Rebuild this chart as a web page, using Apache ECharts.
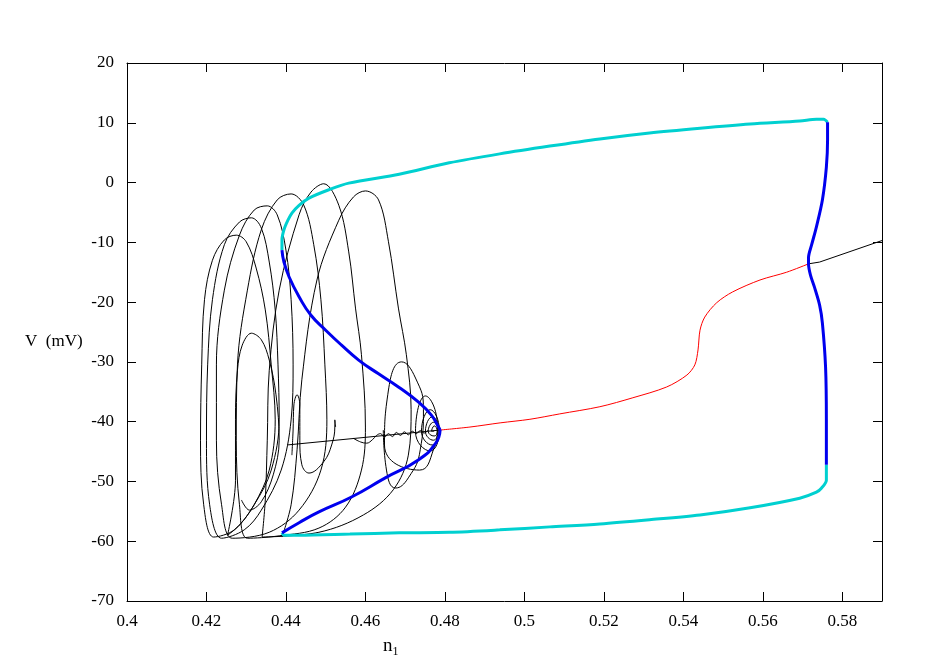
<!DOCTYPE html>
<html>
<head>
<meta charset="utf-8">
<script src="https://cdn.jsdelivr.net/npm/echarts@6/dist/echarts.min.js"></script>
<style>
  html, body { margin: 0; background: #fff; }
  #chart { width: 941px; height: 664px; }
</style>
</head>
<body>
<div id="chart"></div>
<script>
// axis ranges / ticks
const xRange = [0.4, 0.59, 0.02];
const yRange = [-70, 20, 10];

// steady states: stable (black) and unstable (red)
const stableLeft = [[0.4403, -43.9], [0.4788, -41.4]];
const stableRight = [[0.5715, -13.6], [0.5743, -13.3], [0.59, -9.7]];
const unstableSS = [
  [0.4788, -41.4], [0.4863, -40.9], [0.4939, -40.2], [0.5014, -39.6], [0.5089, -38.7],
  [0.5190, -37.5], [0.5273, -36.0], [0.5358, -34.2], [0.5409, -32.2], [0.5429, -30.5],
  [0.5437, -28.0], [0.5442, -24.7], [0.5454, -22.5], [0.5484, -20.1], [0.5524, -18.3],
  [0.5593, -16.3], [0.5660, -15.0], [0.5715, -13.6]
];

// periodic orbits: max/min, unstable (blue) and stable (cyan)
const unstMaxLeft = [
  [0.4390, -11.3], [0.4395, -13.3], [0.4408, -15.8], [0.4433, -19.1], [0.4463, -22.2],
  [0.4500, -24.7], [0.4540, -27.2], [0.4583, -29.7], [0.4633, -32.0], [0.4683, -34.2],
  [0.4733, -36.7], [0.4766, -38.9], [0.4784, -40.9], [0.4788, -41.4]
];
const unstMinLeft = [
  [0.4788, -41.4], [0.4777, -43.6], [0.4733, -46.4], [0.4650, -49.4], [0.4565, -52.6],
  [0.4483, -55.1], [0.4433, -56.9], [0.4390, -58.6]
];
const stabMax = [
  [0.4390, -11.3], [0.4390, -9.6], [0.4395, -7.9], [0.4405, -6.3], [0.4415, -5.1],
  [0.4433, -3.8], [0.4458, -2.6], [0.4508, -1.2], [0.4558, -0.1], [0.4685, 1.4],
  [0.4811, 3.3], [0.4938, 4.8], [0.5064, 6.1], [0.5190, 7.3], [0.5315, 8.3],
  [0.5442, 9.1], [0.5568, 9.8], [0.5693, 10.3], [0.5735, 10.6], [0.5753, 10.6], [0.5763, 10.1]
];
const unstRight = [
  [0.5763, 10.1], [0.5763, 7.1], [0.5760, 2.6], [0.5750, -2.9], [0.5735, -7.4],
  [0.5723, -10.4], [0.5715, -12.6], [0.5715, -13.6], [0.5720, -15.5], [0.5730, -17.5],
  [0.5743, -20.5], [0.5750, -23.5], [0.5758, -30.9], [0.5760, -39.7], [0.5760, -47.2]
];
const stabMin = [
  [0.5760, -47.2], [0.5760, -49.8], [0.5748, -51.1], [0.5735, -51.8], [0.5693, -52.8],
  [0.5568, -54.4], [0.5442, -55.6], [0.5315, -56.4], [0.5190, -57.1], [0.5064, -57.6],
  [0.4938, -58.1], [0.4811, -58.5], [0.4685, -58.6], [0.4561, -58.8], [0.4433, -59.0],
  [0.4395, -59.0], [0.4390, -58.6]
];

// trajectory (black): spiral out of the Hopf point
const trajSpiral = [
  [0.4773, -41.6],
  [0.4766, -41.6], [0.4773, -40.7], [0.4781, -41.6], [0.4773, -42.4],
  [0.4758, -41.6], [0.4771, -40.1], [0.4783, -41.6], [0.4771, -43.1],
  [0.4751, -41.6], [0.4768, -39.2], [0.4786, -41.6], [0.4768, -43.9],
  [0.4741, -41.6], [0.4763, -38.0], [0.4786, -41.4], [0.4763, -44.9],
  [0.4726, -41.7], [0.4751, -35.7], [0.4781, -40.6], [0.4771, -44.7], [0.4736, -48.1],
  [0.4648, -43.9], [0.4658, -34.7], [0.4691, -30.0], [0.4726, -32.7], [0.4746, -38.0],
  [0.4738, -44.7], [0.4708, -49.4], [0.4676, -51.1], [0.4653, -48.1], [0.4645, -41.4]
];
// big relaxation loops, right to left
const trajLoops = [
  [0.4390, -59.3], [0.4413, -53.9], [0.4428, -44.7], [0.4440, -33.0], [0.4478, -16.3],
  [0.4533, -6.3], [0.4570, -2.4], [0.4600, -1.4], [0.4633, -2.9], [0.4658, -9.9],
  [0.4683, -21.0], [0.4703, -28.8], [0.4715, -38.0], [0.4708, -45.6], [0.4670, -51.4],
  [0.4595, -55.6], [0.4483, -58.5], [0.4340, -59.3],
  [0.4348, -53.1], [0.4353, -43.1], [0.4358, -31.4], [0.4383, -18.0], [0.4433, -5.4],
  [0.4463, -1.6], [0.4495, -0.2], [0.4533, -3.8], [0.4558, -11.6], [0.4575, -21.0],
  [0.4590, -28.8], [0.4600, -40.9], [0.4590, -48.1], [0.4550, -54.3], [0.4483, -57.8],
  [0.4383, -59.1], [0.4303, -59.5],
  [0.4283, -53.9], [0.4275, -43.1], [0.4278, -30.5], [0.4303, -18.0], [0.4338, -7.9],
  [0.4378, -2.9], [0.4413, -1.9], [0.4445, -3.8], [0.4470, -10.4], [0.4488, -19.6],
  [0.4498, -30.5], [0.4503, -39.7], [0.4488, -48.1], [0.4433, -54.8], [0.4358, -58.5],
  [0.4265, -59.5],
  [0.4238, -53.9], [0.4225, -43.1], [0.4225, -30.5], [0.4245, -18.0], [0.4283, -8.8],
  [0.4320, -4.6], [0.4353, -3.9], [0.4378, -5.4], [0.4400, -11.3], [0.4413, -19.6],
  [0.4418, -30.5], [0.4413, -39.7], [0.4388, -48.1], [0.4338, -54.8], [0.4295, -58.1],
  [0.4238, -59.5],
  [0.4208, -53.9], [0.4200, -43.1], [0.4203, -30.5], [0.4215, -19.6], [0.4245, -10.4],
  [0.4283, -6.6], [0.4313, -5.9], [0.4338, -7.6], [0.4358, -13.3], [0.4373, -21.3],
  [0.4380, -30.5], [0.4383, -39.7], [0.4363, -48.1], [0.4320, -53.9], [0.4270, -58.1],
  [0.4218, -59.3],
  [0.4193, -53.9], [0.4185, -43.1], [0.4188, -30.5], [0.4195, -19.6], [0.4215, -13.0],
  [0.4245, -9.6], [0.4275, -8.8], [0.4300, -9.9], [0.4325, -14.3], [0.4348, -21.3],
  [0.4363, -30.5], [0.4373, -39.7], [0.4358, -48.1], [0.4320, -53.9], [0.4283, -57.3],
  [0.4253, -59.0],
  [0.4273, -49.8], [0.4273, -39.7], [0.4278, -31.4], [0.4290, -27.2], [0.4313, -25.2],
  [0.4338, -26.3], [0.4358, -29.7], [0.4375, -35.5], [0.4383, -43.1], [0.4368, -48.9],
  [0.4338, -53.4], [0.4308, -54.8], [0.4288, -53.1]
];
const trajSmall = [
  [0.4415, -45.6], [0.4418, -41.4], [0.4420, -37.2], [0.4428, -35.5], [0.4435, -37.2],
  [0.4435, -43.1], [0.4440, -47.2], [0.4458, -48.6], [0.4495, -46.7], [0.4515, -43.9],
  [0.4523, -40.9], [0.4523, -39.7], [0.4525, -40.9]
];
const trajWiggle = [
  [0.4570, -42.8], [0.4588, -43.4], [0.4603, -43.6], [0.4618, -43.0], [0.4628, -42.3],
  [0.4638, -42.0], [0.4648, -42.6], [0.4658, -42.0], [0.4668, -42.5], [0.4678, -41.8],
  [0.4688, -42.3], [0.4698, -41.7], [0.4708, -42.2], [0.4718, -41.6], [0.4728, -42.0],
  [0.4738, -41.5], [0.4748, -41.9], [0.4758, -41.4]
];

const serif = 'Liberation Serif, DejaVu Serif, serif';

function line(data, color, width, smooth) {
  return {
    type: 'line', data: data, showSymbol: false, smooth: smooth,
    lineStyle: { color: color, width: width }, silent: true
  };
}

function xAx(pos, labels) {
  return {
    type: 'value', position: pos, min: xRange[0], max: xRange[1], interval: xRange[2],
    axisLine: { onZero: false, lineStyle: { color: '#000', width: 1 } },
    axisTick: { inside: true, length: 9, lineStyle: { color: '#000' } },
    axisLabel: {
      show: labels, color: '#000', fontFamily: serif, fontSize: 17, margin: 12,
      showMaxLabel: false, formatter: v => String(+v.toFixed(2))
    },
    splitLine: { show: false }
  };
}
function yAx(pos, labels) {
  return {
    type: 'value', position: pos, min: yRange[0], max: yRange[1], interval: yRange[2],
    axisLine: { onZero: false, lineStyle: { color: '#000', width: 1 } },
    axisTick: { inside: true, length: 9, lineStyle: { color: '#000' } },
    axisLabel: { show: labels, color: '#000', fontFamily: serif, fontSize: 17, margin: 13 },
    splitLine: { show: false }
  };
}

const chart = echarts.init(document.getElementById('chart'));
chart.setOption({
  animation: false,
  backgroundColor: '#fff',
  grid: { left: 127, top: 63, right: 59, bottom: 63 },
  xAxis: [xAx('bottom', true), xAx('top', false)],
  yAxis: [yAx('left', true), yAx('right', false)],
  graphic: [
    { type: 'text', left: 25, top: 333,
      style: { text: 'V  (mV)', fill: '#000', font: '17px ' + serif } },
    { type: 'text', left: 383, top: 637,
      style: { text: 'n{s|1}', fill: '#000', font: '19px ' + serif,
        rich: { s: { fontSize: 12, fontFamily: serif, verticalAlign: 'bottom', padding: [10, 0, 0, 0] } } } }
  ],
  series: [
    line(trajLoops, '#000', 1, 0.35),
    line(trajSpiral, '#000', 1, 0.5),
    line(trajSmall, '#000', 1, 0.4),
    line(trajWiggle, '#000', 1, 0.4),
    line(stableLeft, '#000', 1, false),
    line(stableRight, '#000', 1, false),
    line(unstableSS, '#ff0000', 1, 0.3),
    line(stabMax, '#00d0d0', 3, 0.3),
    line(stabMin, '#00d0d0', 3, 0.3),
    line(unstMaxLeft, '#0000ee', 3, 0.5),
    line(unstMinLeft, '#0000ee', 3, 0.5),
    line(unstRight, '#0000ee', 3, 0.3)
  ]
});
</script>
</body>
</html>
